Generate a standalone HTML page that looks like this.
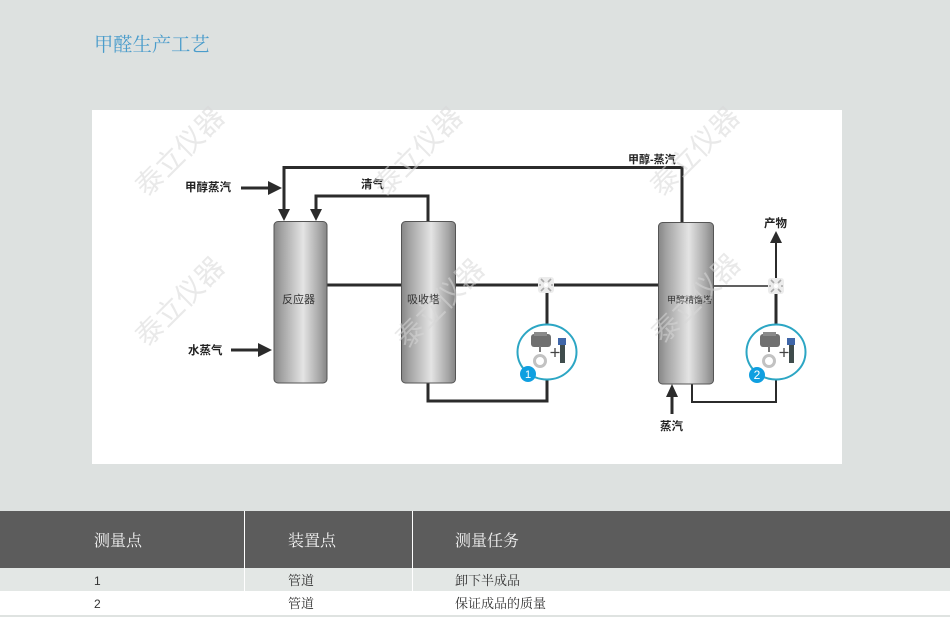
<!DOCTYPE html>
<html lang="zh"><head><meta charset="utf-8"><style>
html,body{margin:0;padding:0;width:950px;height:622px;overflow:hidden;background:#fff}
svg{display:block}
.s{font-family:"Liberation Serif","Noto Serif CJK SC",serif}
.l{font-family:"Liberation Sans","Noto Sans CJK SC",sans-serif;font-size:11.5px;font-weight:700;fill:#222;filter:blur(.35px)}
.v{font-size:11px;font-weight:400;fill:#333}
.w{font-family:"Liberation Sans","Noto Sans CJK SC",sans-serif;font-size:28px;fill:rgba(215,215,215,.55);font-weight:400}
.p{fill:none;stroke:#2b2b2b;stroke-width:3}
</style></head><body>
<svg width="950" height="622" viewBox="0 0 950 622" xmlns="http://www.w3.org/2000/svg">
<defs>
<linearGradient id="g" x1="0" x2="1" y1="0" y2="0">
<stop offset="0" stop-color="#868686"/><stop offset=".14" stop-color="#a2a2a2"/><stop offset=".55" stop-color="#e4e4e4"/><stop offset=".86" stop-color="#a6a6a6"/><stop offset="1" stop-color="#858585"/>
</linearGradient>
<g id="inst">
<ellipse cx="0" cy="0" rx="29.500" ry="27.500" fill="#fff" stroke="#2ca6c4" stroke-width="2"/>
<rect x="-16" y="-18" width="20" height="13" rx="3" fill="#707070"/>
<rect x="-13" y="-20" width="13" height="4" fill="#8a8a8a"/>
<rect x="-8" y="-6" width="2" height="6" fill="#777"/>
<circle cx="-7" cy="9" r="5.500" fill="#fff" stroke="#c2c2c2" stroke-width="3"/>
<rect x="13" y="-8" width="5" height="19" fill="#3f4c4c"/>
<rect x="11" y="-14" width="8" height="7" fill="#3f66a8"/>
<path d="M8 -4v9M3.500 .5h9" stroke="#444" stroke-width="1.300"/>
</g>
<g id="valve">
<rect x="-8" y="-8" width="16" height="16" fill="#ececec" rx="3"/>
<path d="M-5 -6l3 3M5 -6l-3 3M-5 6l3 -3M5 6l-3 -3M-7 0h2M5 0h2" stroke="#aaa" stroke-width="1.600"/>
<circle cx="0" cy="0" r="2" fill="#fff"/>
</g>
</defs>
<rect width="950" height="511" fill="#dde1e0"/>
<text class="s" x="94" y="51" font-size="19.300" fill="#4a9ccb">甲醛生产工艺</text>
<rect x="92" y="110" width="750" height="354" fill="#fff"/>

<path class="p" d="M682 222V167.500H284V210"/>
<path class="p" d="M428 222V196H316V211"/>
<path class="p" d="M241 188H270"/>
<path class="p" d="M231 350H261"/>
<path class="p" d="M327 285H658"/>
<path class="p" d="M547 285V325M547 378V401H428V383"/>
<path d="M714 286H776" stroke="#2b2b2b" stroke-width="1.500" fill="none"/>
<path class="p" d="M776 286V325"/>
<path d="M776 286V242" stroke="#2b2b2b" stroke-width="2" fill="none"/>
<path d="M692 384V402H776V378" stroke="#2b2b2b" stroke-width="2" fill="none"/>
<path class="p" d="M672 414V396"/>
<path fill="#2b2b2b" d="M268 181l14 7-14 7zM258 343l14 7-14 7zM278 209h12l-6 12zM310 209h12l-6 12zM666 397l6-13 6 13zM770 243l6-12 6 12z"/>

<rect x="274" y="221.500" width="53" height="161.500" rx="4" fill="url(#g)" stroke="#555" stroke-width="1"/>
<rect x="401.500" y="221.500" width="54" height="161.500" rx="4" fill="url(#g)" stroke="#555" stroke-width="1"/>
<rect x="658.500" y="222.500" width="55" height="161.500" rx="4" fill="url(#g)" stroke="#555" stroke-width="1"/>

<use href="#valve" x="546" y="285"/>
<use href="#valve" x="776" y="286"/>
<use href="#inst" x="547" y="352"/>
<use href="#inst" x="776" y="352"/>
<circle cx="528" cy="374" r="8" fill="#0f9fe0"/>
<circle cx="757" cy="375" r="8" fill="#0f9fe0"/>
<text x="528" y="378" font-size="11" fill="#fff" text-anchor="middle" font-family="Liberation Sans,sans-serif">1</text>
<text x="757" y="379" font-size="12" fill="#fff" text-anchor="middle" font-family="Liberation Sans,sans-serif">2</text>

<text class="l" x="185" y="191">甲醇蒸汽</text>
<text class="l" x="361" y="188">清气</text>
<text class="l" x="188" y="354">水蒸气</text>
<text class="l v" x="282" y="303">反应器</text>
<text class="l v" x="407" y="303">吸收塔</text>
<text class="l v" x="667" y="303" style="font-size:9px">甲醇精馏塔</text>
<text class="l" x="628" y="163" style="font-size:11px">甲醇-蒸汽</text>
<text class="l" x="764" y="227">产物</text>
<text class="l" x="660" y="430">蒸汽</text>

<g class="w">
<text transform="translate(147 198) rotate(-45)">泰立仪器</text>
<text transform="translate(147 348) rotate(-45)">泰立仪器</text>
<text transform="translate(385 198) rotate(-45)">泰立仪器</text>
<text transform="translate(407 350) rotate(-45)">泰立仪器</text>
<text transform="translate(662 198) rotate(-45)">泰立仪器</text>
<text transform="translate(663 345) rotate(-45)">泰立仪器</text>
</g>

<rect y="511" width="950" height="57" fill="#5c5c5c"/>
<rect y="568" width="950" height="23" fill="#e3e7e5"/>
<rect y="591" width="950" height="24" fill="#fff"/>
<rect y="615" width="950" height="2" fill="#dfe3e1"/>
<rect x="244" y="511" width="1" height="80" fill="#fff"/>
<rect x="412" y="511" width="1" height="80" fill="#fff"/>
<g class="s" font-size="16" fill="#f2f2f2">
<text x="94" y="546">测量点</text>
<text x="288" y="546">装置点</text>
<text x="455" y="546">测量任务</text>
</g>
<g class="s" font-size="13" fill="#333">
<text x="94" y="585" font-size="12" font-family="Liberation Sans,sans-serif">1</text>
<text x="288" y="585">管道</text>
<text x="455" y="585">卸下半成品</text>
<text x="94" y="608" font-size="12" font-family="Liberation Sans,sans-serif">2</text>
<text x="288" y="608">管道</text>
<text x="455" y="608">保证成品的质量</text>
</g>
</svg>
</body></html>
